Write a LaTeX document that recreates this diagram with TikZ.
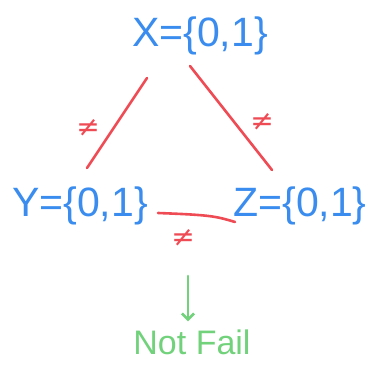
\documentclass[tikz,border=0pt]{standalone}
\usepackage{fontspec}
\setmainfont{Liberation Sans}
\newfontfamily\symfont{DejaVu Sans}
\usepackage{xcolor}
\usetikzlibrary{arrows.meta, positioning}
\definecolor{pen}{HTML}{3A8DEE}
\definecolor{ink}{HTML}{EE4B55}
\definecolor{leaf}{HTML}{72D27C}
\tikzset{
  setnode/.style={text=pen, font=\fontsize{41}{41}\selectfont, inner sep=0pt},
  neqline/.style={draw=ink, line width=2.6pt, line cap=round},
  neqlabel/.style={text=ink, font=\symfont\fontsize{28}{28}\selectfont, inner sep=0pt},
  result/.style={text=leaf, font=\fontsize{34}{34}\selectfont, inner sep=0pt},
  down/.style={-{Straight Barb[length=6pt, width=12pt]}, draw=leaf, line width=2.6pt, line cap=round},
}
\begin{document}
\begin{tikzpicture}[x=1pt, y=-1pt]
  \useasboundingbox (0,0) rectangle (378,366);
  \node[setnode] (X) at (200,36) {X=\{0,1\}};
  \node[setnode] (Y) at (80,206) {Y=\{0,1\}};
  \node[setnode] (Z) at (300,206) {Z=\{0,1\}};
  \node[result] (nf) at (192,342) {Not Fail};
  \coordinate (tip) at (188,276);
  \draw[neqline] ([xshift=-53pt, yshift=-42pt]X.center) -- ([xshift=7pt, yshift=38pt]Y.center);
  \draw[neqline] ([xshift=-10pt, yshift=-30pt]X.center) -- ([xshift=-28pt, yshift=36pt]Z.center);
  \draw[neqline] ([xshift=78pt, yshift=-7pt]Y.center) .. controls ([xshift=-90pt, yshift=-9pt]Z.center) and ([xshift=-85pt, yshift=-10pt]Z.center) .. ([xshift=-65pt, yshift=-16pt]Z.center);
  \node[neqlabel] (n1) at (88,128) {≠};
  \node[neqlabel] (n2) at (262,122) {≠};
  \node[neqlabel] (n3) at (183,238) {≠};
  \draw[down] (tip) -- ([yshift=8pt]nf.north -| tip);
\end{tikzpicture}
\end{document}
